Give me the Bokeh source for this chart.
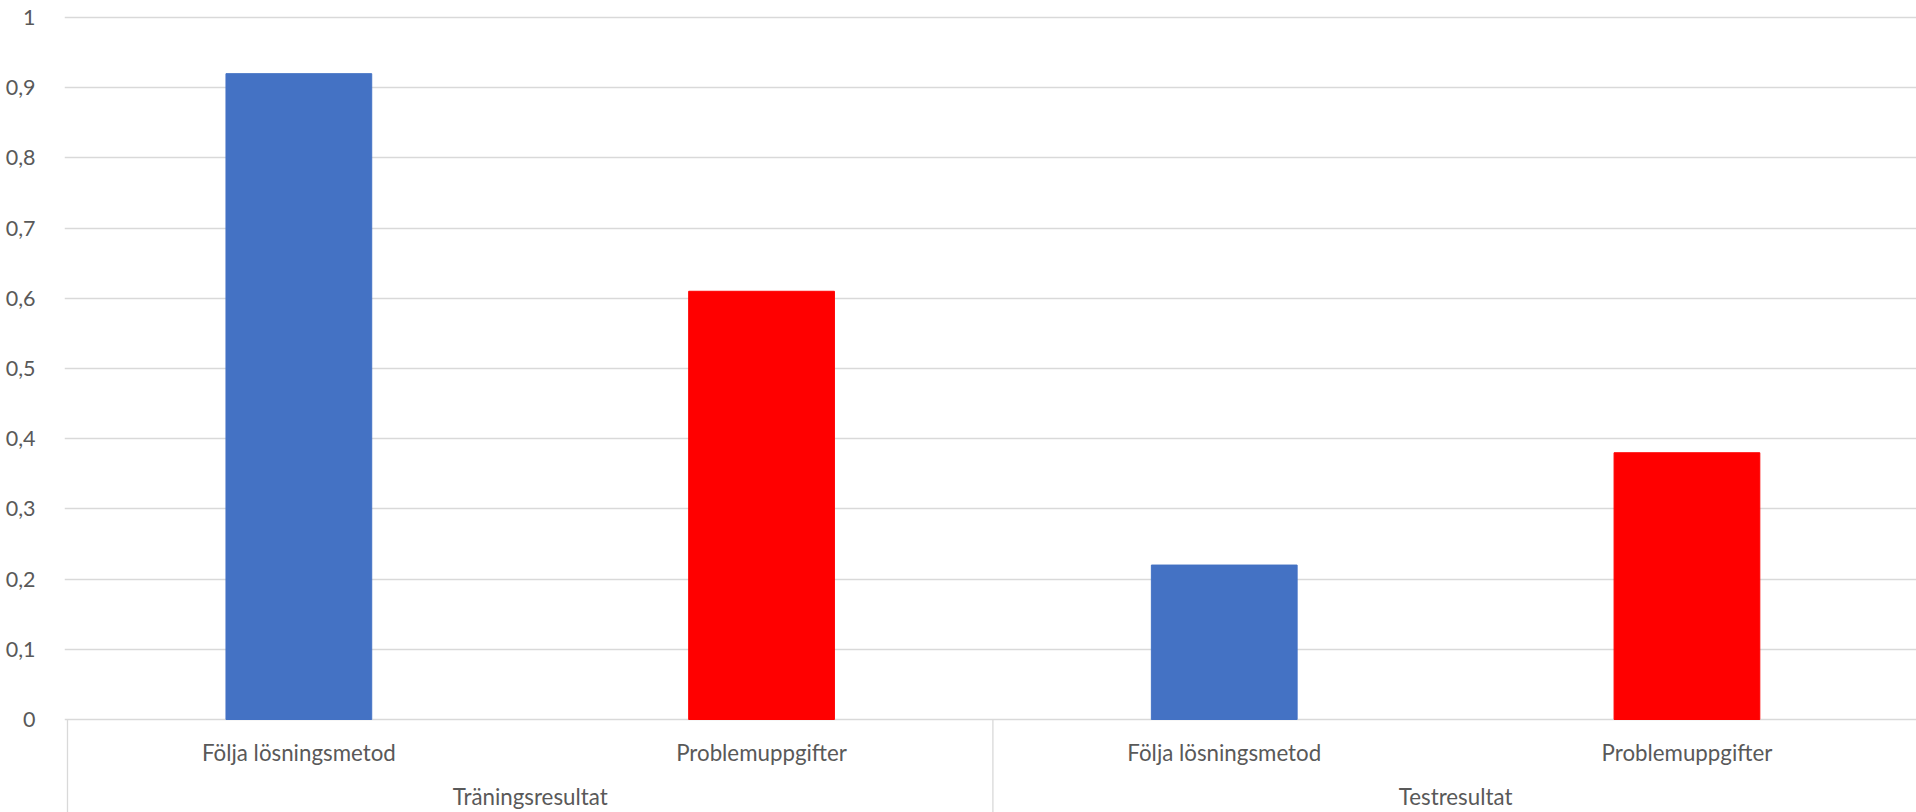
from bokeh.plotting import figure
from bokeh.models import Range1d, FixedTicker, CustomJSTickFormatter, ColumnDataSource
from bokeh.core.properties import value
from bokeh.embed import file_html
from bokeh.resources import INLINE

groups = ["Träningsresultat", "Testresultat"]
methods = ["Följa lösningsmetod", "Problemuppgifter"]
values = [0.92, 0.61, 0.22, 0.38]
bar_colors = ["#4472C4", "#FF0000", "#4472C4", "#FF0000"]
y_ticks = [0, 0.1, 0.2, 0.3, 0.4, 0.5, 0.6, 0.7, 0.8, 0.9, 1.0]

FONT = "Lato"
TXT = "#595959"
GRID = "#D9D9D9"

cat_px = 462.7
px_per_unit = 702.0
left_border = 64
top_border = 12
W, H = 1916, 812
frame_w = W - left_border
frame_h = H - top_border
x0 = -(67 - left_border) / cat_px
x1 = x0 + frame_w / cat_px
y1 = 1.0 + (17 - top_border) / px_per_unit
y0 = y1 - frame_h / px_per_unit

p = figure(width=W, height=H, output_backend="svg", toolbar_location=None,
           x_range=Range1d(x0, x1), y_range=Range1d(y0, y1),
           min_border_left=left_border, min_border_right=0,
           min_border_top=top_border, min_border_bottom=0)
p.outline_line_color = None
p.xaxis.visible = False
p.xgrid.visible = False

ax = p.yaxis[0]
ax.ticker = FixedTicker(ticks=y_ticks)
ax.formatter = CustomJSTickFormatter(code="return String(Math.round(tick*10)/10).replace('.', ',');")
ax.axis_line_color = None
ax.major_tick_line_color = None
ax.minor_tick_line_color = None
ax.major_label_standoff = 23
ax.major_label_text_font = FONT
ax.major_label_text_font_size = "21.5px"
ax.major_label_text_color = TXT

p.ygrid.ticker = FixedTicker(ticks=y_ticks)
p.ygrid.grid_line_color = GRID
p.ygrid.grid_line_width = 1.3

n = len(values)
xs = [i + 0.5 for i in range(n)]
cats = [methods[i % 2] for i in range(n)]
src = ColumnDataSource(dict(x=xs, top=values, color=bar_colors, label=cats))
p.vbar(x="x", top="top", bottom=0, width=0.315, color="color", source=src)

# category separators
sep_x = [0, 2]
p.segment(x0=sep_x, y0=[0, 0], x1=sep_x, y1=[y0, y0], line_color=GRID, line_width=1.3)

p.text(x="x", y=-0.047, text="label", source=src, text_font=value(FONT),
       text_font_size="22.3px", text_color=TXT, text_align="center", text_baseline="middle")
gsrc = ColumnDataSource(dict(x=[1.0, 3.0], label=groups))
p.text(x="x", y=-0.1097, text="label", source=gsrc, text_font=value(FONT),
       text_font_size="22.3px", text_color=TXT, text_align="center", text_baseline="middle")

open("out.html", "w").write(file_html(p, INLINE))
